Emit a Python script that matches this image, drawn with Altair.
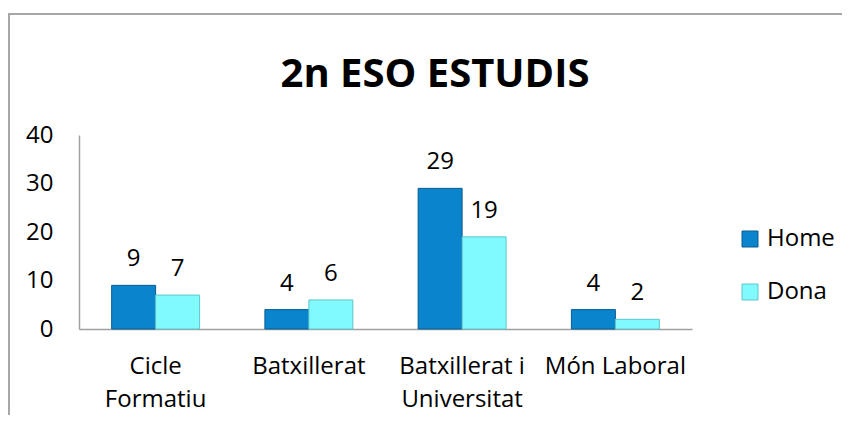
import altair as alt
import pandas as pd

title_text = "2n ESO ESTUDIS"
categories = ["Cicle Formatiu", "Batxillerat", "Batxillerat i Universitat", "Món Laboral"]
category_lines = {
    "Cicle Formatiu": ["Cicle", "Formatiu"],
    "Batxillerat i Universitat": ["Batxillerat i", "Universitat"],
}
series = ["Home", "Dona"]
home_values = [9, 4, 29, 4]
dona_values = [7, 6, 19, 2]
y_ticks = [0, 10, 20, 30, 40]

fill_colors = ["#0a84cc", "#80fafc"]
stroke_colors = ["#0a5d91", "#5ec5cc"]
FONT = "Open Sans"

rows = []
for i, c in enumerate(categories):
    rows.append({"cat": c, "serie": "Home", "val": home_values[i]})
    rows.append({"cat": c, "serie": "Dona", "val": dona_values[i]})
df = pd.DataFrame(rows)

expr_parts = []
for k, v in category_lines.items():
    expr_parts.append(f"datum.label == '{k}' ? {v!r} : ")
label_expr = "".join(expr_parts) + "datum.label"

x_enc = alt.X(
    "cat:N",
    sort=categories,
    scale=alt.Scale(paddingInner=0.426, paddingOuter=0.213),
    axis=alt.Axis(
        title=None, labelAngle=0, labelExpr=label_expr, ticks=False,
        domainColor="#a0a0a0", domainWidth=1.5, labelFont=FONT, labelFontSize=24,
        labelColor="#000000", labelPadding=25, labelLineHeight=33, labelLimit=300,
        labelBaseline="top",
    ),
)
xoff = alt.XOffset("serie:N", sort=series, scale=alt.Scale(paddingInner=0, paddingOuter=0))
y_enc = alt.Y(
    "val:Q",
    scale=alt.Scale(domain=[0, 40]),
    axis=alt.Axis(
        title=None, values=y_ticks, grid=False, ticks=False, domainColor="#a0a0a0",
        domainWidth=1.5, labelFont=FONT, labelFontSize=24, labelColor="#000000",
        labelPadding=26,
    ),
)

base = alt.Chart(df)

bars = base.mark_bar(strokeWidth=1).encode(
    x=x_enc,
    xOffset=xoff,
    y=y_enc,
    color=alt.Color(
        "serie:N", sort=series,
        scale=alt.Scale(domain=series, range=fill_colors),
        legend=alt.Legend(
            title=None, orient="none", legendX=659, legendY=92, padding=0,
            symbolType="square", symbolSize=256, symbolStrokeWidth=1,
            labelFont=FONT, labelFontSize=24, labelColor="#000000",
            rowPadding=29, labelOffset=5,
        ),
    ),
    stroke=alt.Stroke(
        "serie:N", sort=series,
        scale=alt.Scale(domain=series, range=stroke_colors),
        legend=None,
    ),
)

labels = base.mark_text(baseline="alphabetic", dy=-19, font=FONT, fontSize=24, color="#000000").encode(
    x=alt.X("cat:N", sort=categories),
    xOffset=alt.XOffset("serie:N", sort=series),
    y="val:Q",
    text="val:Q",
)

title_df = pd.DataFrame({"t": [title_text]})
title_mark = alt.Chart(title_df).mark_text(
    font=FONT, fontSize=40, fontWeight="bold", color="#000000",
    align="center", baseline="alphabetic",
).encode(text="t:N", x=alt.value(356), y=alt.value(-48))

frame_df = pd.DataFrame({"k": [0]})
left_border = alt.Chart(frame_df).mark_rule(color="#a6a6a6", strokeWidth=2).encode(
    x=alt.value(-70), y=alt.value(-121), y2=alt.value(300)
)
top_border = alt.Chart(frame_df).mark_rule(color="#a6a6a6", strokeWidth=2).encode(
    y=alt.value(-121), x=alt.value(-71), x2=alt.value(800)
)

chart = alt.layer(left_border, top_border, bars, labels, title_mark).properties(
    width=613,
    height=194,
    padding={"left": 71, "top": 127, "right": 150, "bottom": 86},
    autosize=alt.AutoSizeParams(type="none"),
).configure_view(stroke=None)

chart.save("out.html", embed_options={"renderer": "svg", "actions": False})
